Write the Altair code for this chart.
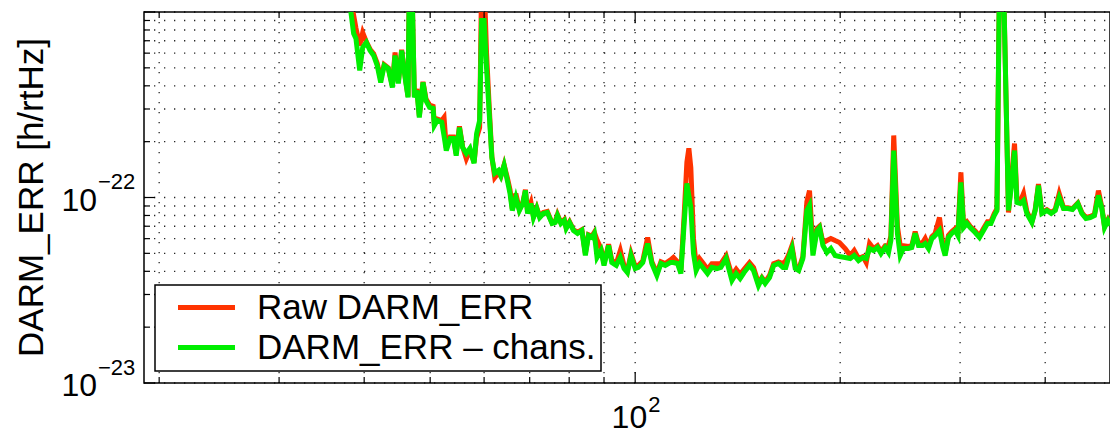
import altair as alt
import pandas as pd

# Amplitude spectral density of DARM_ERR, before and after subtracting the
# witness channels.  Amplitudes are in units of 1e-22 h/rtHz.
freq_hz = [
    37.8, 38.6, 38.9, 39.4, 39.8, 40.3, 40.8, 41.3, 41.8, 42.3,
    42.8, 43.4, 44.0, 44.4, 44.9, 45.4, 46.0, 46.4, 46.6, 47.0,
    47.4, 47.8, 48.2, 48.8, 49.3, 49.9, 50.5, 50.7, 51.2, 52.0,
    52.4, 52.8, 53.5, 54.1, 54.6, 55.2, 55.8, 56.5, 57.2, 58.0,
    58.5, 59.1, 59.5, 60.0, 60.5, 61.1, 61.6, 62.2, 63.0, 63.5,
    64.2, 65.0, 65.5, 66.0, 66.8, 67.6, 68.4, 69.0, 69.5, 70.3,
    70.9, 71.7, 72.4, 73.3, 74.3, 75.5, 76.3, 76.9, 77.8, 78.7,
    79.2, 80.1, 81.2, 82.3, 83.5, 84.5, 85.4, 86.4, 87.1, 87.9,
    89.1, 90.0, 91.4, 92.4, 93.8, 95.1, 96.3, 97.4, 98.6, 100.0,
    101.1, 102.6, 104.3, 105.8, 107.6, 109.1, 110.7, 112.6, 113.8, 115.4,
    116.7, 118.0, 119.1, 119.9, 120.7, 121.8, 122.9, 124.3, 126.0, 127.7,
    129.6, 131.8, 133.6, 136.0, 138.7, 140.7, 142.6, 144.5, 147.2, 149.2,
    151.7, 153.5, 155.2, 157.5, 159.7, 162.3, 164.8, 166.4, 168.0, 169.9,
    171.8, 173.8, 176.3, 178.7, 180.3, 182.4, 184.9, 186.5, 188.7, 191.2,
    193.8, 196.6, 199.5, 203.4, 206.9, 209.7, 212.8, 216.0, 218.4, 220.9,
    223.9, 226.9, 229.6, 232.9, 235.5, 237.4, 239.7, 242.7, 245.0, 247.7,
    251.9, 254.8, 257.7, 260.6, 264.2, 266.6, 269.6, 272.7, 275.7, 279.8,
    283.0, 285.2, 288.4, 291.7, 295.1, 297.8, 300.8, 303.5, 307.0, 310.4,
    315.7, 320.3, 324.7, 329.1, 332.9, 336.7, 339.8, 342.7, 347.4, 353.3,
    356.5, 360.6, 363.5, 367.6, 371.7, 376.0, 382.4, 386.7, 391.0, 395.6,
    402.3, 408.2, 413.8, 419.4, 425.6, 431.9, 438.6, 446.7, 452.8, 459.0,
    465.7, 472.5, 478.9, 484.5, 488.9, 494.5, 498.5,
]

asd_chans = [
    14.0, 7.66, 7.20, 4.84, 6.44, 6.85, 6.20, 5.83, 5.15, 4.17,
    5.15, 4.96, 3.92, 5.83, 4.12, 6.20, 4.27, 3.46, 15.0, 15.0,
    3.46, 3.77, 2.70, 4.17, 3.33, 3.06, 3.02, 2.44, 2.60, 2.54,
    2.15, 1.79, 2.08, 2.08, 1.68, 2.38, 1.86, 1.73, 1.84, 1.53,
    2.21, 2.60, 9.0, 9.0, 5.02, 2.70, 1.64, 1.35, 1.40, 1.31,
    1.49, 1.205, 1.05, 0.851, 1.0, 0.851, 0.928, 1.09, 0.820, 0.928,
    0.780, 0.872, 0.780, 0.820, 0.830, 0.724, 0.733, 0.80, 0.724, 0.752,
    0.681, 0.733, 0.664, 0.640, 0.664, 0.487, 0.624, 0.609, 0.640, 0.475,
    0.518, 0.430, 0.551, 0.446, 0.430, 0.475, 0.414, 0.394, 0.487, 0.414,
    0.420, 0.446, 0.565, 0.441, 0.380, 0.441, 0.430, 0.446, 0.446, 0.441,
    0.389, 0.724, 1.19, 1.02, 0.883, 0.499, 0.404, 0.441, 0.414, 0.389,
    0.420, 0.414, 0.420, 0.469, 0.357, 0.389, 0.366, 0.394, 0.430, 0.404,
    0.335, 0.366, 0.344, 0.370, 0.430, 0.441, 0.420, 0.420, 0.475, 0.531,
    0.414, 0.404, 0.469, 0.851, 0.906, 0.487, 0.664, 0.689, 0.551, 0.505,
    0.531, 0.487, 0.481, 0.475, 0.469, 0.487, 0.457, 0.475, 0.469, 0.531,
    0.518, 0.538, 0.499, 0.538, 0.505, 0.586, 1.79, 0.640, 0.487, 0.531,
    0.531, 0.538, 0.640, 0.551, 0.551, 0.565, 0.531, 0.601, 0.624, 0.664,
    0.538, 0.487, 0.609, 0.640, 0.664, 0.624, 1.205, 0.689, 0.724, 0.689,
    0.647, 0.609, 0.664, 0.724, 0.724, 0.80, 0.851, 15.0, 15.0, 0.851,
    1.13, 1.79, 0.940, 0.928, 0.963, 0.820, 0.733, 0.851, 1.16, 0.820,
    0.851, 0.820, 0.851, 1.0, 0.872, 0.872, 0.862, 0.928, 0.820, 0.770,
    0.780, 0.80, 1.025, 0.872, 0.689, 0.752, 0.707,
]

asd_raw = [
    14.0, 9.6, 8.2, 6.6, 7.75, 6.9, 6.3, 5.95, 5.3, 4.35,
    5.2, 5.0, 4.0, 6.05, 4.2, 6.25, 4.35, 3.5, 15.0, 15.0,
    3.5, 3.85, 2.75, 4.2, 3.4, 3.15, 3.1, 2.5, 2.65, 2.60,
    2.70, 1.85, 2.12, 2.12, 1.72, 2.42, 1.88, 1.62, 1.80, 1.55,
    2.1, 2.38, 15.0, 15.0, 6.0, 2.9, 1.66, 1.28, 1.36, 1.30,
    1.50, 1.25, 1.1, 0.87, 1.05, 0.86, 0.94, 1.10, 0.84, 0.94,
    0.79, 0.88, 0.79, 0.83, 0.84, 0.73, 0.74, 0.81, 0.73, 0.76,
    0.69, 0.74, 0.67, 0.65, 0.67, 0.50, 0.63, 0.62, 0.65, 0.59,
    0.53, 0.44, 0.56, 0.46, 0.44, 0.518, 0.43, 0.40, 0.50, 0.425,
    0.43, 0.455, 0.609, 0.45, 0.39, 0.45, 0.44, 0.46, 0.475, 0.45,
    0.40, 0.80, 1.55, 1.84, 1.45, 0.60, 0.43, 0.469, 0.44, 0.41,
    0.44, 0.44, 0.44, 0.485, 0.38, 0.41, 0.385, 0.41, 0.445, 0.42,
    0.345, 0.37, 0.35, 0.38, 0.44, 0.45, 0.44, 0.457, 0.49, 0.55,
    0.43, 0.41, 0.48, 0.95, 1.09, 0.52, 0.68, 0.70, 0.57, 0.586,
    0.601, 0.586, 0.572, 0.531, 0.487, 0.518, 0.47, 0.48, 0.446, 0.565,
    0.53, 0.55, 0.51, 0.55, 0.551, 0.62, 2.16, 0.70, 0.551, 0.55,
    0.545, 0.55, 0.655, 0.565, 0.57, 0.601, 0.545, 0.615, 0.64, 0.780,
    0.56, 0.50, 0.625, 0.655, 0.68, 0.64, 1.364, 0.71, 0.74, 0.70,
    0.66, 0.62, 0.68, 0.74, 0.74, 0.82, 0.87, 15.0, 15.0, 0.83,
    1.2, 1.955, 1.0, 0.95, 1.05, 0.84, 0.74, 0.86, 1.18, 0.83,
    0.86, 0.83, 0.86, 1.05, 0.88, 0.88, 0.87, 0.935, 0.83, 0.78,
    0.79, 0.81, 1.09, 0.88, 0.70, 0.76, 0.715,
]

UNIT = 1e-22
RAW = "Raw DARM_ERR"
SUB = "DARM_ERR – chans."
Y_TITLE = "DARM_ERR [h/rtHz]"
series_names = [RAW, SUB]
series_colors = ["#ff3300", "#00ee00"]

# Grid / tick positions (log axes, dotted grid at every 1..9 x decade)
x_grid = [20, 30, 40, 50, 60, 70, 80, 90, 100, 200, 300, 400]
x_major = [100]
x_minor = [v for v in x_grid if v not in x_major]
y_grid = [k * 10.0 ** e for e in (-23, -22) for k in range(1, 10)] + [1e-21]
y_major = [1e-23, 1e-22, 1e-21]
y_minor = [v for v in y_grid if v not in y_major]

# Decade labels: mantissa "10" plus a raised exponent
x_dec_pos = [100]
x_exp_text = ["2"]
y_dec_pos = [1e-23, 1e-22]
y_exp_text = ["−23", "−22"]

FONT = "Liberation Sans"
W, H = 966, 371
BLACK = "#000000"

n = len(freq_hz)
spec = pd.DataFrame({
    "freq": freq_hz + freq_hz,
    "asd": [v * UNIT for v in asd_raw] + [v * UNIT for v in asd_chans],
    "series": [RAW] * n + [SUB] * n,
})

x_scale = alt.Scale(type="log", domain=[19, 498], nice=False)
y_scale = alt.Scale(type="log", domain=[1e-23, 1e-21], nice=False)

X_PLAIN = dict(scale=x_scale, axis=None)
Y_PLAIN = dict(scale=y_scale, axis=None)

legend = alt.Legend(title=None, orient="none", legendX=11, legendY=273,
                    symbolType="M-2,0H2", symbolSize=812, symbolStrokeWidth=5,
                    symbolOffset=29, labelOffset=33, labelFont=FONT,
                    labelFontSize=35, labelColor=BLACK, labelLimit=600,
                    padding=5, rowPadding=4, strokeColor=BLACK,
                    fillColor="#ffffff", cornerRadius=0)

# Dotted grid drawn as rules at every grid value
grid_dash = [1.3, 8.7]
v_grid = alt.Chart(pd.DataFrame({"freq": x_grid})).mark_rule(
    color=BLACK, strokeWidth=1.3, strokeDash=grid_dash, opacity=0.85).encode(
    x=alt.X("freq:Q", **X_PLAIN), y=alt.value(0), y2=alt.value(H))
h_grid = alt.Chart(pd.DataFrame({"asd": y_grid})).mark_rule(
    color=BLACK, strokeWidth=1.3, strokeDash=grid_dash, opacity=0.85).encode(
    y=alt.Y("asd:Q", **Y_PLAIN), x=alt.value(0), x2=alt.value(W))

base = alt.Chart(spec).encode(
    x=alt.X("freq:Q", **X_PLAIN),
    y=alt.Y("asd:Q", **Y_PLAIN),
    color=alt.Color("series:N", scale=alt.Scale(domain=series_names, range=series_colors),
                    legend=legend),
)
raw_line = base.transform_filter(alt.datum.series == RAW).mark_line(strokeWidth=5, clip=True)
sub_line = base.transform_filter(alt.datum.series == SUB).mark_line(strokeWidth=5, clip=True)


def x_ticks(values, y0, y1):
    return alt.Chart(pd.DataFrame({"freq": values})).mark_rule(
        color=BLACK, strokeWidth=1.2).encode(
        x=alt.X("freq:Q", **X_PLAIN), y=alt.value(y0), y2=alt.value(y1))


def y_ticks(values, x0, x1):
    return alt.Chart(pd.DataFrame({"asd": values})).mark_rule(
        color=BLACK, strokeWidth=1.2).encode(
        y=alt.Y("asd:Q", **Y_PLAIN), x=alt.value(x0), x2=alt.value(x1))


# Inward-pointing ticks on the bottom, top and left edges
ticks = [
    x_ticks(x_minor, H, H - 6), x_ticks(x_major, H, H - 11),
    x_ticks(x_minor, 0, 6), x_ticks(x_major, 0, 11),
    y_ticks(y_minor, 0, 6), y_ticks(y_major, 0, 11),
]

x_df = pd.DataFrame({"freq": x_dec_pos, "mant": ["10"] * len(x_dec_pos), "exp": x_exp_text})
y_df = pd.DataFrame({"asd": y_dec_pos, "mant": ["10"] * len(y_dec_pos), "exp": y_exp_text})

x_mant = alt.Chart(x_df).mark_text(
    align="right", baseline="alphabetic", dx=12, font=FONT, fontSize=32, color=BLACK
).encode(x=alt.X("freq:Q", **X_PLAIN), y=alt.value(H + 45), text="mant:N")
x_exp = alt.Chart(x_df).mark_text(
    align="left", baseline="alphabetic", dx=13, font=FONT, fontSize=22, color=BLACK
).encode(x=alt.X("freq:Q", **X_PLAIN), y=alt.value(H + 29), text="exp:N")

y_mant = alt.Chart(y_df).mark_text(
    align="right", baseline="alphabetic", dy=13, font=FONT, fontSize=32, color=BLACK
).encode(y=alt.Y("asd:Q", **Y_PLAIN), x=alt.value(-47), text="mant:N")
y_exp = alt.Chart(y_df).mark_text(
    align="left", baseline="alphabetic", dy=-8.5, font=FONT, fontSize=22, color=BLACK
).encode(y=alt.Y("asd:Q", **Y_PLAIN), x=alt.value(-46), text="exp:N")

# Vertical axis title, reading bottom to top left of the tick labels
y_title = alt.Chart(pd.DataFrame({"t": [Y_TITLE]})).mark_text(
    angle=270, align="center", baseline="alphabetic", font=FONT, fontSize=35, color=BLACK
).encode(x=alt.value(-101), y=alt.value(H / 2), text="t:N")

chart = alt.layer(v_grid, h_grid, raw_line, sub_line, *ticks,
                  x_mant, x_exp, y_mant, y_exp, y_title).properties(
    width=W, height=H,
    autosize=alt.AutoSizeParams(type="none"),
    padding={"left": 144, "top": 12, "right": 0, "bottom": 51},
    background="#ffffff",
).configure_view(stroke=BLACK, strokeWidth=1.5).configure_legend(strokeWidth=1.5)

chart.save("out.html", embed_options={"renderer": "svg", "actions": False})
